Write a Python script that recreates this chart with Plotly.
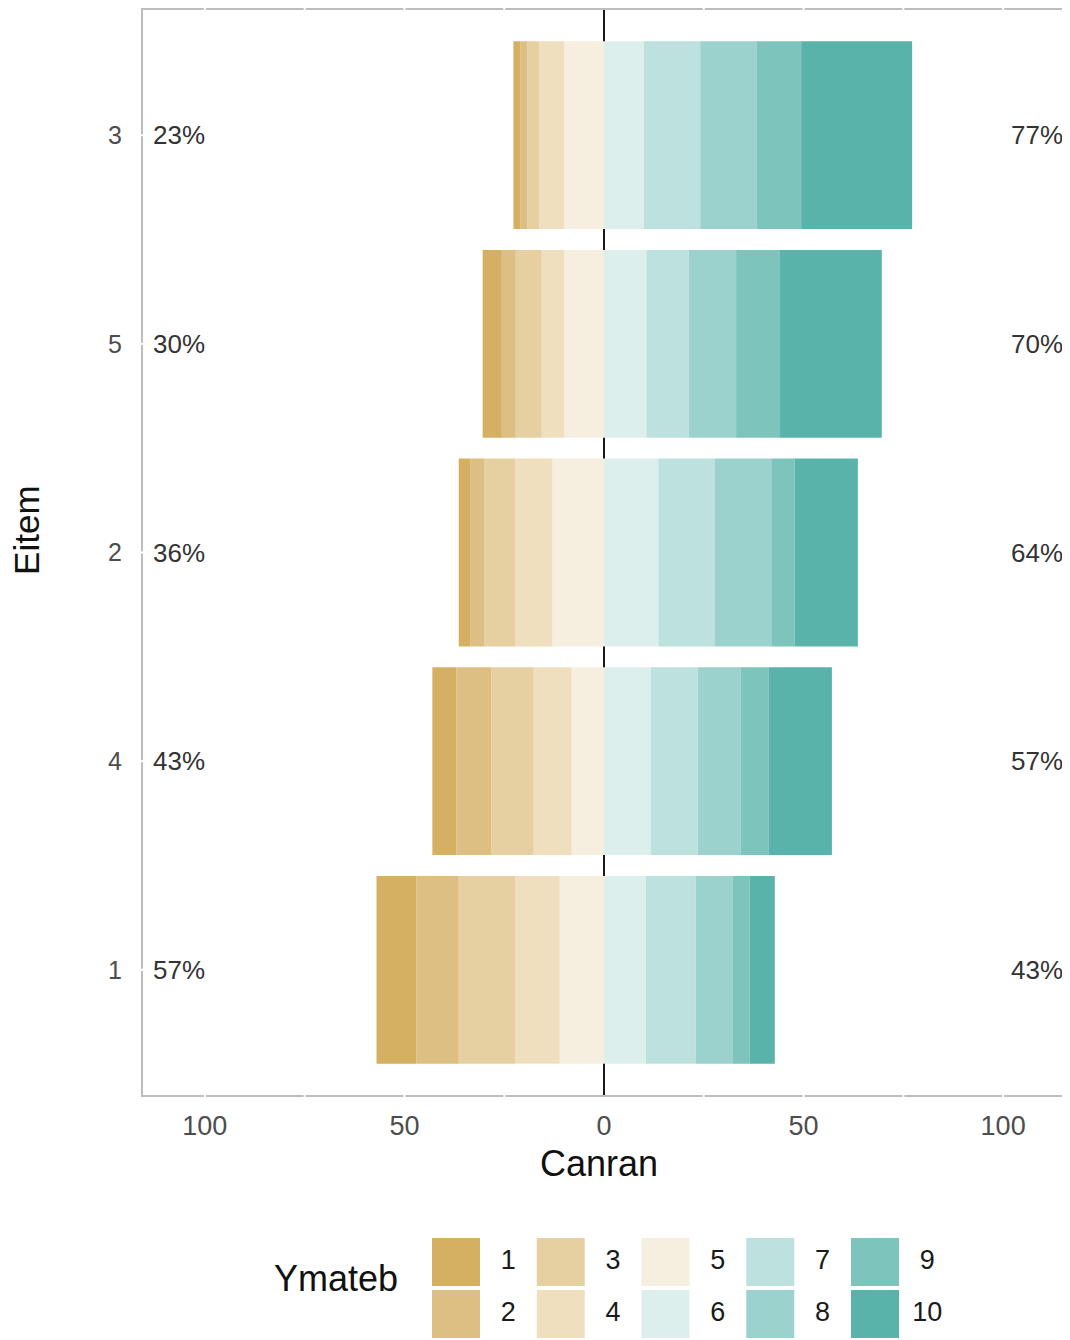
import plotly.graph_objects as go

# ---- data ----
items = ["3", "5", "2", "4", "1"]          # top to bottom
levels = ["1", "2", "3", "4", "5", "6", "7", "8", "9", "10"]
# percentage of responses per level for each item (same order as items)
r1 = [1.7, 4.8, 3.0, 6.0, 10.0]
r2 = [1.8, 3.5, 3.5, 8.8, 10.6]
r3 = [3.0, 6.5, 7.7, 10.6, 14.1]
r4 = [6.2, 5.6, 9.3, 9.5, 11.2]
r5 = [10.0, 10.0, 12.9, 8.1, 11.1]
r6 = [10.0, 10.6, 13.6, 11.7, 10.5]
r7 = [14.1, 10.6, 14.1, 11.8, 12.5]
r8 = [14.2, 11.9, 14.2, 10.7, 9.3]
r9 = [11.1, 11.0, 5.9, 7.1, 4.2]
r10 = [27.8, 25.5, 15.8, 15.8, 6.3]
values = [r1, r2, r3, r4, r5, r6, r7, r8, r9, r10]
colors = ["#D5B062", "#DDBF83", "#E6CFA0", "#EFDFBF", "#F6EEDF",
          "#DDEFEC", "#BDE1DE", "#9CD2CD", "#7DC4BC", "#59B3AA"]
x_tickvals = [-100, -50, 0, 50, 100]
x_ticktext = ["100", "50", "0", "50", "100"]

FONT = "Liberation Sans, Arial, sans-serif"
cat_order = items[::-1]                       # bottom to top
ypos = [cat_order.index(it) for it in items]  # numeric category positions

fig = go.Figure()

# left side: levels 5..1 (negative, stacked outward from 0)
for i in [4, 3, 2, 1, 0]:
    fig.add_trace(go.Bar(y=ypos, x=[-v for v in values[i]], orientation="h",
                         marker=dict(color=colors[i], line=dict(width=0)),
                         width=0.9, showlegend=False, name=levels[i]))
for i in [5, 6, 7, 8, 9]:
    fig.add_trace(go.Bar(y=ypos, x=values[i], orientation="h",
                         marker=dict(color=colors[i], line=dict(width=0)),
                         width=0.9, showlegend=False, name=levels[i]))

# percentage annotations
left_tot = [sum(values[k][j] for k in range(5)) for j in range(len(items))]
right_tot = [sum(values[k][j] for k in range(5, 10)) for j in range(len(items))]
annos = []
for j, it in enumerate(items):
    annos.append(dict(x=-113.5, y=ypos[j], xref="x", yref="y", text=f"{round(left_tot[j])}%",
                      showarrow=False, xanchor="left", yanchor="middle",
                      font=dict(family=FONT, size=26, color="#333333")))
    annos.append(dict(x=115.4, y=ypos[j], xref="x", yref="y", text=f"{round(right_tot[j])}%",
                      showarrow=False, xanchor="right", yanchor="middle",
                      font=dict(family=FONT, size=26, color="#333333")))

# axis titles
annos.append(dict(x=-0.127, y=(1338 - 530) / 1328, xref="paper", yref="paper", text="Eitem",
                  textangle=-90, showarrow=False, xanchor="center", yanchor="middle",
                  font=dict(family=FONT, size=35, color="#111111")))
annos.append(dict(x=(599 - 143) / 922, y=(1338 - 1163) / 1328, xref="paper", yref="paper",
                  text="Canran", showarrow=False, xanchor="center", yanchor="middle",
                  font=dict(family=FONT, size=36, color="#111111")))

# legend (custom, column-major 2 rows)
lx = [k // 2 for k in range(10)]
ly = [-(k % 2) for k in range(10)]
fig.add_trace(go.Scatter(x=lx, y=ly, mode="markers", xaxis="x2", yaxis="y2",
                         marker=dict(symbol="square", size=48, color=colors, line=dict(width=0)),
                         showlegend=False, hoverinfo="skip"))
fig.add_trace(go.Scatter(x=[c + 0.5 for c in lx], y=ly, mode="text", xaxis="x2", yaxis="y2",
                         text=levels, textposition="middle center",
                         textfont=dict(family=FONT, size=27, color="#1a1a1a"),
                         showlegend=False, hoverinfo="skip"))
annos.append(dict(x=-1.146, y=-0.31, xref="x2", yref="y2", text="Ymateb", showarrow=False,
                  xanchor="center", yanchor="middle",
                  font=dict(family=FONT, size=36, color="#111111")))

# centre line (below bars)
shapes = [dict(type="line", xref="x", yref="y domain", x0=0, x1=0, y0=0, y1=1,
               line=dict(color="#1a1a1a", width=2), layer="below")]
# white grid lines crossing the panel border
for v in [-100, -75, -50, -25, 25, 50, 75, 100]:
    for yy in (0, 1):
        shapes.append(dict(type="line", xref="x", yref="y domain", x0=v, x1=v,
                           y0=yy - 0.004, y1=yy + 0.004,
                           line=dict(color="white", width=2), layer="above"))
for p in ypos:
    for xx in (0, 1):
        shapes.append(dict(type="line", xref="x domain", yref="y", x0=xx - 0.004, x1=xx + 0.004,
                           y0=p, y1=p, line=dict(color="white", width=2), layer="above"))

fig.update_layout(
    width=1060, height=1330,
    margin=dict(l=135, r=3, t=2, b=0),
    barmode="relative", bargap=0.1,
    plot_bgcolor="white", paper_bgcolor="white",
    font=dict(family=FONT),
    xaxis=dict(range=[-115.5, 115.5], tickvals=x_tickvals, ticktext=x_ticktext,
               showgrid=False, zeroline=False, showline=True, mirror=True,
               linecolor="#BDBDBD", linewidth=2, ticks="", ticklabelstandoff=6,
               tickfont=dict(family=FONT, size=27, color="#4D4D4D"), domain=[0, 1]),
    yaxis=dict(range=[-0.6, 4.6], tickvals=list(range(len(cat_order))), ticktext=cat_order,
               showgrid=False, zeroline=False, showline=True, mirror=True,
               linecolor="#BDBDBD", linewidth=2, ticks="", ticklabelstandoff=14,
               tickfont=dict(family=FONT, size=25, color="#4D4D4D"),
               domain=[(1338 - 1095) / 1328, 1]),
    xaxis2=dict(domain=[0, 1], range=[(143 - 456) / 104.75, (1065 - 456) / 104.75],
                visible=False, anchor="y2"),
    yaxis2=dict(domain=[0, 113 / 1328], range=[-(1338 - 1262) / 52, (1262 - 1225) / 52],
                visible=False, anchor="x2"),
    annotations=annos, shapes=shapes,
)

fig.write_html("out.html")
